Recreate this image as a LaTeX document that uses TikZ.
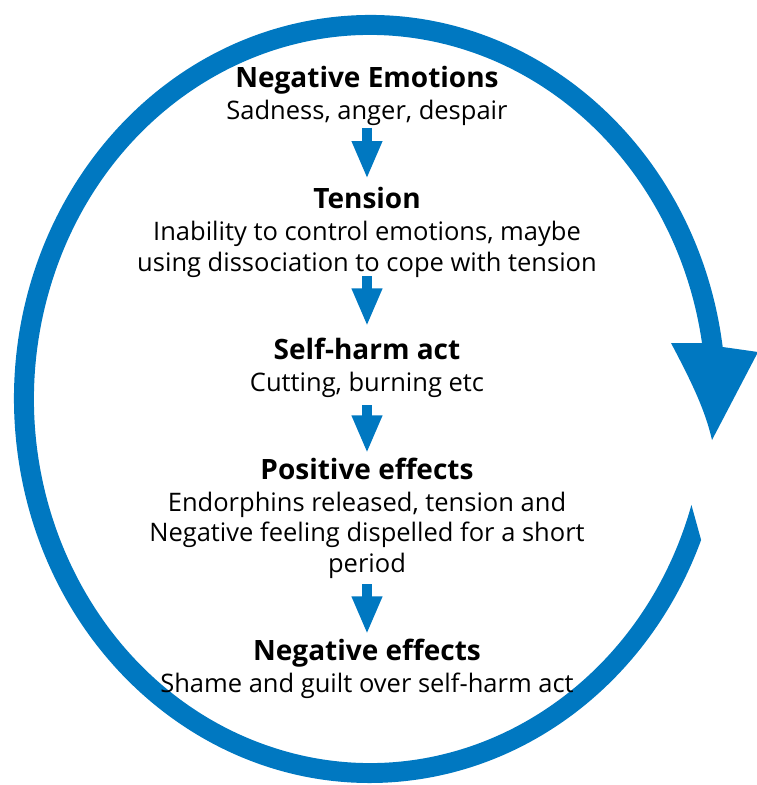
\documentclass[tikz,border=0pt]{standalone}
\usepackage{fontspec}
\setmainfont{Open Sans}
\usepackage{xcolor}
\usepackage{tikz}
\definecolor{kreisblau}{HTML}{0078C1}
\usetikzlibrary{arrows.meta}
\usetikzlibrary{positioning}

\tikzset{
	stufe/.style={align=center, inner sep=0pt, anchor=base, font=\fontsize{25.5}{30.5}\selectfont},
	schritt/.style={draw=kreisblau, line width=10pt, -{Triangle[length=38pt, width=28pt]}},
}
\newcommand{\stufentitel}[1]{{\fontsize{28}{30.5}\selectfont\bfseries #1}}

\begin{document}
\begin{tikzpicture}[x=1pt, y=1pt]
		%Rahmen
		\useasboundingbox (-370,-386) rectangle (387,399);

		%Kreispfeil mit Spitze rechts
		\fill[kreisblau] (-16.93:336 and 364) arc[start angle=-16.93, end angle=-351.15, x radius=336, y radius=364]
			-- (301,56) .. controls (320,20) and (335,-10) .. (342,-41) -- (388,47) -- (352.7,52)
			arc[start angle=-352.22, end angle=-21.54, x radius=356, y radius=384] -- cycle;

		%Stufen
		\node[stufe] (emotion) at (-3,279) {\stufentitel{Negative Emotions}\\[1.5pt] Sadness, anger, despair};
		\node[stufe] (spannung) at (-3,128) {\stufentitel{Tension}\\[1.5pt] Inability to control emotions, maybe\\ using dissociation to cope with tension};
		\node[stufe] (akt) at (-3,8) {\stufentitel{Self-harm act}\\[1.5pt] Cutting, burning etc};
		\node[stufe] (positiv) at (-3,-173) {\stufentitel{Positive effects}\\[1.5pt] Endorphins released, tension and\\ Negative feeling dispelled for a short\\ period};
		\node[stufe] (negativ) at (-3,-293) {\stufentitel{Negative effects}\\[1.5pt] Shame and guilt over self-harm act};

		%Pfeile
		\draw[schritt] ([yshift=-8pt]emotion.base) -- ([yshift=8pt]spannung.north);
		\draw[schritt] ([yshift=-5pt]spannung.base) -- ([yshift=11pt]akt.north);
		\draw[schritt] ([yshift=-14pt]akt.base) -- ([yshift=4pt]positiv.north);
		\draw[schritt] ([yshift=-12pt]positiv.base) -- ([yshift=4pt]negativ.north);
\end{tikzpicture}
\end{document}
